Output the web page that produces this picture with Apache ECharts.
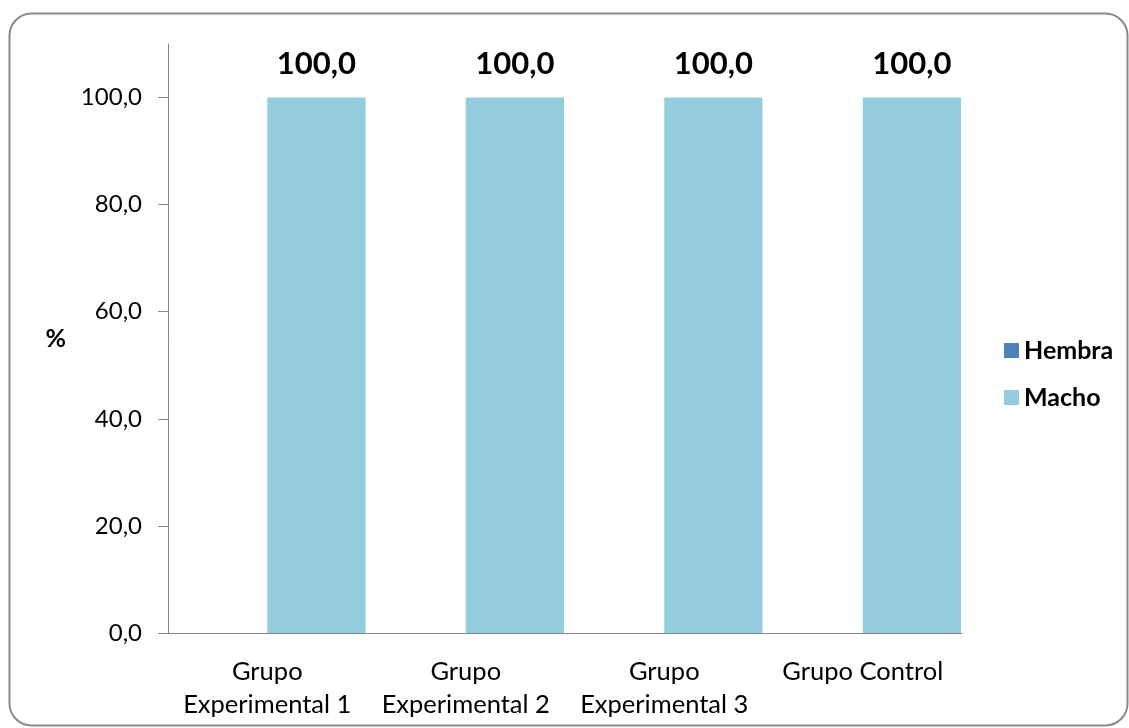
<!DOCTYPE html>
<html>
<head>
<meta charset="utf-8">
<script src="https://cdn.jsdelivr.net/npm/echarts@6/dist/echarts.min.js"></script>
<style>
html,body{margin:0;padding:0;background:#fff;}
#c{width:1129px;height:728px;}
</style>
</head>
<body>
<div id="c"></div>
<script>
const categories = ['Grupo\nExperimental 1', 'Grupo\nExperimental 2', 'Grupo\nExperimental 3', 'Grupo Control'];
const seriesNames = ['Hembra', 'Macho'];
const hembra = [0, 0, 0, 0];
const macho = [100, 100, 100, 100];
const yTicks = [0, 20, 40, 60, 80, 100];

const FONT = 'Lato';
const fmt = v => Number(v).toFixed(1).replace('.', ',');

const chart = echarts.init(document.getElementById('c'), null, {renderer: 'canvas'});
chart.setOption({
  animation: false,
  backgroundColor: '#fff',
  textStyle: {fontFamily: FONT},
  graphic: [{
    type: 'rect', silent: true,
    shape: {x: 9.5, y: 13.5, width: 1118, height: 712, r: 22},
    style: {fill: 'none', stroke: '#8a8a8a', lineWidth: 2}
  }],
  grid: {left: 168, right: 167, top: 44, bottom: 95, containLabel: false},
  legend: {
    orient: 'vertical', left: 999, top: 333, itemWidth: 15, itemHeight: 15, itemGap: 22,
    icon: 'rect',
    textStyle: {fontFamily: FONT, fontSize: 25, fontWeight: 'bold', color: '#000'},
    data: seriesNames
  },
  xAxis: {
    type: 'category', data: categories,
    axisLine: {lineStyle: {color: '#868686', width: 1}},
    axisTick: {show: false},
    axisLabel: {color: '#000', fontSize: 25.5, fontFamily: FONT, lineHeight: 33, margin: 22, interval: 0}
  },
  yAxis: {
    type: 'value', min: 0, max: 110,
    name: '%', nameLocation: 'middle', nameRotate: 0, nameGap: 102,
    nameTextStyle: {fontFamily: FONT, fontSize: 25, fontWeight: 'bold', color: '#000'},
    axisLine: {show: true, lineStyle: {color: '#868686', width: 1}},
    axisTick: {show: true, length: 10, customValues: yTicks, lineStyle: {color: '#868686'}},
    splitLine: {show: false},
    axisLabel: {color: '#000', fontSize: 24, fontFamily: FONT, margin: 26, customValues: yTicks, formatter: v => fmt(v)}
  },
  series: [
    {name: seriesNames[0], type: 'bar', data: hembra, itemStyle: {color: '#4F81BD'},
     barGap: '0%', barCategoryGap: '1%'},
    {name: seriesNames[1], type: 'bar', data: macho, itemStyle: {color: '#93CDDD'},
     barGap: '0%', barCategoryGap: '1%',
     label: {show: true, position: 'top', distance: 18, formatter: p => fmt(p.value),
       fontFamily: FONT, fontSize: 31, fontWeight: 'bold', color: '#000'}}
  ]
});
</script>
</body>
</html>
